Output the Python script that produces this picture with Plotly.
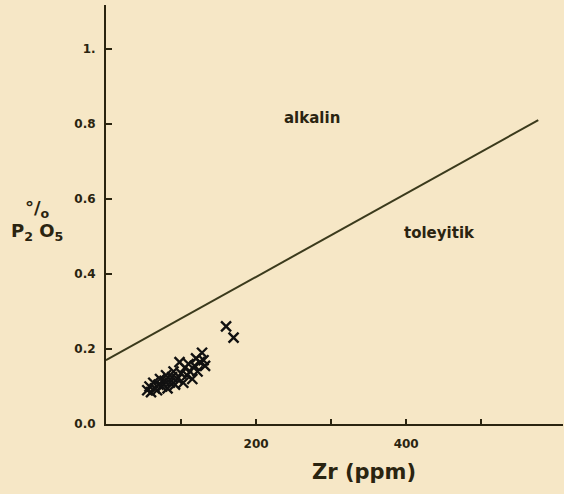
import plotly.graph_objects as go

# Data
zr = [55, 58, 60, 63, 65, 68, 70, 72, 75, 78, 80, 82, 85, 88, 90, 92, 95, 98,
      100, 103, 105, 108, 110, 112, 115, 118, 120, 122, 125, 128, 130, 132, 160, 170]
p2o5 = [0.09, 0.10, 0.085, 0.11, 0.095, 0.09, 0.105, 0.12, 0.10, 0.115, 0.13, 0.095,
        0.11, 0.125, 0.14, 0.105, 0.12, 0.165, 0.135, 0.11, 0.15, 0.13, 0.16, 0.14,
        0.12, 0.155, 0.175, 0.14, 0.165, 0.19, 0.17, 0.155, 0.26, 0.23]
line_zr = [0, 576]
line_p = [0.17, 0.81]
y_ticks = [0.0, 0.2, 0.4, 0.6, 0.8, 1.0]
y_labels = ["0.0", "0.2", "0.4", "0.6", "0.8", "1."]
x_ticks = [100, 200, 300, 400, 500]
x_labels = ["", "200", "", "400", ""]

bg = "#F6E7C6"
ink = "#2a2410"
fnt = "DejaVu Sans"

fig = go.Figure()
fig.add_trace(go.Scatter(x=line_zr, y=line_p, mode="lines",
                         line=dict(color="#3b3a1c", width=2), hoverinfo="skip"))
fig.add_trace(go.Scatter(x=zr, y=p2o5, mode="markers",
                         marker=dict(symbol="x-thin", size=10,
                                     line=dict(color="#111", width=2.4))))

fig.update_layout(
    width=564, height=494, paper_bgcolor=bg, plot_bgcolor=bg,
    margin=dict(l=106, r=1, t=5, b=70), showlegend=False,
    font=dict(family=fnt, color=ink),
    xaxis=dict(range=[0, 609], tickvals=x_ticks, ticktext=x_labels,
               showline=True, linecolor=ink, linewidth=2, showgrid=False,
               zeroline=False, ticks="inside", ticklen=5, tickcolor=ink,
               tickwidth=1.5, ticklabelstandoff=8,
               tickfont=dict(size=12, family=fnt, color=ink, weight="bold")),
    yaxis=dict(range=[0, 1.117], tickvals=y_ticks, ticktext=y_labels,
               showline=True, linecolor=ink, linewidth=2, showgrid=False,
               zeroline=False, ticks="inside", ticklen=6, tickcolor=ink,
               tickwidth=1.5, ticklabelstandoff=6,
               tickfont=dict(size=12, family=fnt, color=ink, weight="bold")),
)

fig.add_annotation(text="Zr (ppm)", xref="paper", yref="paper", x=0.565, y=-0.08,
                   showarrow=False, yanchor="top",
                   font=dict(size=21, family=fnt, color=ink, weight="bold"))
fig.add_annotation(text="°/<sub>o</sub><br>P<sub>2</sub> O<sub>5</sub>", xref="paper", yref="paper",
                   x=-0.152, y=0.485, showarrow=False, xanchor="center",
                   font=dict(size=18, family=fnt, color=ink, weight="bold"))
fig.add_annotation(text="alkalin", x=275, y=0.815, showarrow=False,
                   font=dict(size=15, family=fnt, color=ink, weight="bold"))
fig.add_annotation(text="toleyitik", x=445, y=0.51, showarrow=False,
                   font=dict(size=15, family=fnt, color=ink, weight="bold"))

fig.write_html("out.html", config={"displayModeBar": False},
               post_script="document.body.style.margin='0';")
